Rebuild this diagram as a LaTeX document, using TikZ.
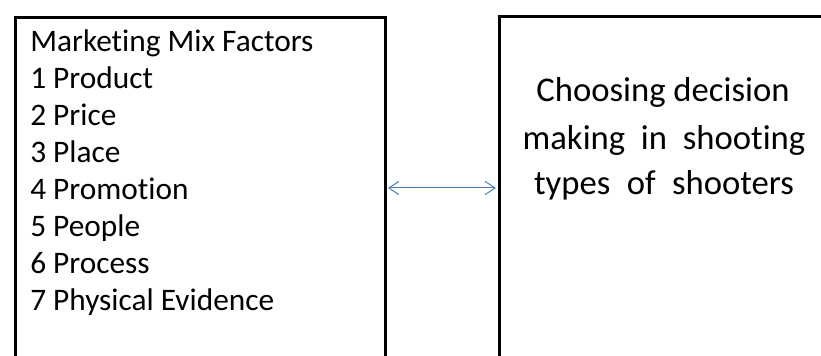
\documentclass[tikz,border=0pt]{standalone}
\usepackage{fontspec}
\setmainfont[Ligatures=NoCommon]{Carlito}
\usetikzlibrary{arrows.meta}
\definecolor{linkblue}{RGB}{79,129,189}
\tikzset{
    panel/.style={draw=black, line width=2.25pt, rectangle, inner sep=0pt},
    listtext/.style={anchor=base west, inner sep=0pt, font=\fontsize{23.5}{28}\selectfont},
    boxtext/.style={anchor=base, inner sep=0pt, font=\fontsize{26}{30}\selectfont},
    link/.style={draw=linkblue, line width=0.75pt, {Straight Barb[length=7.5pt,width=10pt]}-{Straight Barb[length=7.5pt,width=10pt]}}
}
\begin{document}
\begin{tikzpicture}[x=0.75pt, y=-0.75pt]
    % Picture frame
    \clip (0,0) rectangle (821,356);
    
    % Draw the two boxes
    \node[panel, anchor=north west, minimum width=277.5pt, minimum height=300pt] (factors) at (13.5,16) {};
    \node[panel, anchor=north west, minimum width=300pt, minimum height=300pt] (decision) at (497.5,15) {};
    
    % List of factors
    \node[listtext] (title) at (30,52) {Marketing Mix Factors};
    \foreach \num/\fname [count=\i] in {1/Product, 2/Price, 3/Place, 4/Promotion, 5/People, 6/Process, 7/Physical Evidence} {
        \node[listtext] (factor-\i) at (30,{52+\i*36.9}) {\num\ \fname};
    }
    
    % Text of the right box
    \node[boxtext] (line-1) at (663,102) {Choosing decision};
    \node[boxtext] (line-2) at (664,150) {\makebox[212pt][s]{making in shooting}};
    \node[boxtext] (line-3) at (664,195) {\makebox[195pt][s]{types of shooters}};
    
    % Two-way arrow
    \coordinate (left-end) at (factors.east |- 0,188);
    \coordinate (right-end) at (decision.west |- 0,188);
    \draw[link] ([xshift=1.1pt]left-end) -- ([xshift=-1.1pt]right-end);
\end{tikzpicture}
\end{document}
